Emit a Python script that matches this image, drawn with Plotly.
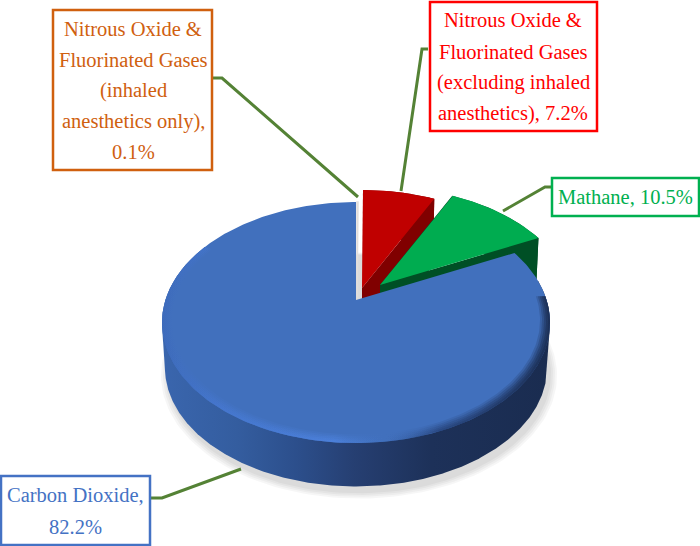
import numpy as np
import plotly.graph_objects as go

# ---- data ----
categories = ["Carbon Dioxide", "Mathane",
              "Nitrous Oxide & Fluorinated Gases (excluding inhaled anesthetics)",
              "Nitrous Oxide & Fluorinated Gases (inhaled anesthetics only)"]
values = [82.2, 10.5, 7.2, 0.1]

label_co2 = ["Carbon Dioxide,", "82.2%"]
label_ch4 = ["Mathane, 10.5%"]
label_no2 = ["Nitrous Oxide &", "Fluorinated Gases", "(excluding inhaled", "anesthetics), 7.2%"]
label_inh = ["Nitrous Oxide &", "Fluorinated Gases", "(inhaled", "anesthetics only),", "0.1%"]

# ---- projection of the tilted pie onto the page ----
CX, CY, A, B, K = 356.0, 300.0, 190.6, 116.3, 0.187
DEPTH, BASE_SCALE = 46.0, 0.985
LEADER = "#548235"
FONT = "Liberation Serif"
FSIZE = 20.5


def project(theta_deg, scale=1.0, off=(0, 0), depth=0.0):
    t = np.radians(np.asarray(theta_deg, dtype=float))
    X, Y = scale * np.sin(t), scale * np.cos(t)
    w = 1 + K * Y
    return CX + A * X / w + off[0], CY - B * Y / w + off[1] + depth


def arc(a, b, n=160):
    return np.linspace(a, b, n)


def poly(xs, ys, color=None, gradient=None):
    tr = dict(x=list(xs), y=list(ys), mode="lines", fill="toself", line=dict(width=0),
              hoverinfo="skip", showlegend=False)
    if gradient:
        tr["fillgradient"] = gradient
    else:
        tr["fillcolor"] = color
    fig.add_trace(go.Scatter(**tr))


def hgrad(stops, start=160, stop=548):
    return dict(type="horizontal", start=start, stop=stop, colorscale=stops)


def hull(xs, ys):
    pts = sorted(set(zip(np.round(xs, 3).tolist(), np.round(ys, 3).tolist())))

    def half(seq):
        out = []
        for p in seq:
            while len(out) >= 2 and ((out[-1][0] - out[-2][0]) * (p[1] - out[-2][1])
                                     - (out[-1][1] - out[-2][1]) * (p[0] - out[-2][0])) <= 0:
                out.pop()
            out.append(p)
        return out[:-1]

    h = half(pts) + half(pts[::-1])
    h.append(h[0])
    return [p[0] for p in h], [p[1] for p in h]


fig = go.Figure()

# slice angles, measured clockwise from the top
deg = [v * 3.6 for v in values]
inh_a, inh_b = 0.0, deg[3]
no2_a, no2_b = inh_b, inh_b + deg[2]
ch4_a, ch4_b = no2_b, no2_b + deg[1]
co2_a, co2_b = ch4_b, 360.0

OFF_NO2 = (6, -12)
OFF_CH4 = (24, -15)
OFF_INH = (1, 0)

# soft shadow behind the pie
for i, s in enumerate([1.02, 1.01, 1.0, 0.99]):
    th = arc(0, 360, 200)
    x, y = project(th, s, (3, 3), DEPTH + 3)
    poly(x, y, "rgba(0,0,0,0.035)")


def wedge(a, b, off, top, wall):
    th = arc(a, b)
    # cut faces
    for ang in (a, b):
        x0, y0 = project(0, 0, off)
        x1, y1 = project(ang, 1, off)
        x2, y2 = project(ang, BASE_SCALE, off, DEPTH)
        poly([x0, x1, x2, x0], [y0, y1, y2, y0 + DEPTH], wall)
    # outer wall
    xt, yt = project(th, 1, off)
    xb, yb = project(th, BASE_SCALE, off, DEPTH)
    poly(np.r_[xt, xb[::-1]], np.r_[yt, yb[::-1]], wall)
    # top face
    x0, y0 = project(0, 0, off)
    poly(np.r_[x0, xt, x0], np.r_[y0, yt, y0], top)


wedge(no2_a, no2_b, OFF_NO2, "#c00000", "#800000")
wedge(ch4_a, ch4_b, OFF_CH4, "#00ac50", "#004f25")

# the very thin inhaled-anesthetics slice
thin = arc(inh_a, inh_b, 6)
xi, yi = project(thin, 1, OFF_INH)
x0i, y0i = project(0, 0, OFF_INH)
fig.add_trace(go.Scatter(x=np.r_[x0i, xi, x0i], y=np.r_[y0i, yi, y0i], mode="lines",
                         fill="toself", fillcolor="#e2dedb",
                         line=dict(width=1.5, color="#e2dedb"),
                         hoverinfo="skip", showlegend=False))

# carbon dioxide: side wall (front half as hulls, so the silhouette runs straight
# from the rim down to the base on both sides)
wall_grad = hgrad([[0, "#3a66ae"], [0.2, "#345d9f"], [0.35, "#2c4f8c"], [0.5, "#263f72"],
                   [0.7, "#1d3159"], [1, "#1a2c50"]])
for a_, b_ in [(co2_a + 16, 180), (180, 300)]:
    th = arc(a_, b_, 200)
    xt, yt = project(th)
    xb, yb = project(th, BASE_SCALE, depth=DEPTH)
    hx, hy = hull(np.r_[xt, xb], np.r_[yt, yb])
    poly(hx, hy, gradient=wall_grad)

# carbon dioxide: top face
th = arc(co2_a, co2_b, 300)
xt, yt = project(th)
x0, y0 = project(0, 0)
poly(np.r_[x0, xt, x0], np.r_[y0, yt, y0], "#4170bd")

# rim bevel: stacked translucent strips that give a soft edge
for inner, alpha in [(0.95, 0.15), (0.96, 0.2), (0.97, 0.25), (0.98, 0.3), (0.99, 0.35)]:
    th2 = arc(co2_a + 24, 300, 200)
    xo, yo = project(th2, 1.0)
    xn, yn = project(th2, inner)
    poly(np.r_[xo, xn[::-1]], np.r_[yo, yn[::-1]],
         gradient=hgrad([[0, f"rgba(60,105,185,{alpha})"],
                         [0.15, f"rgba(70,120,210,{alpha})"],
                         [0.45, f"rgba(78,132,226,{alpha})"],
                         [0.58, f"rgba(65,112,189,{alpha * 0.3})"],
                         [0.72, f"rgba(35,62,115,{alpha})"],
                         [1, f"rgba(26,44,80,{alpha * 1.5})"]]))

# ---- label boxes and leader lines ----
shapes = []


def box(x0_, y0_, x1_, y1_, color):
    shapes.append(dict(type="rect", xref="x", yref="y", x0=x0_, y0=y0_, x1=x1_, y1=y1_,
                       line=dict(color=color, width=2.5), fillcolor="white", layer="above"))


def leader(pts):
    path = "M " + " L ".join(f"{a},{b}" for a, b in pts)
    shapes.append(dict(type="path", path=path, xref="x", yref="y",
                       line=dict(color=LEADER, width=3), layer="above"))


leader([(213, 78), (222, 78), (358, 197)])
leader([(428, 49), (422, 49), (401, 191)])
leader([(551, 187), (545, 187), (503, 211)])
leader([(151, 498), (162, 498), (241, 469)])

box(53, 10, 212, 170, "#d0600f")
box(430, 2, 597, 131, "#ff0000")
box(552, 178, 699, 216, "#00b050")
box(1, 476, 150, 545, "#4472c4")

annotations = []


def label(lines, cx, ys, color):
    for text, y in zip(lines, ys):
        annotations.append(dict(x=cx, y=y, xref="x", yref="y", text=text, showarrow=False,
                                xanchor="center", yanchor="middle",
                                font=dict(family=FONT, size=FSIZE, color=color)))


label(label_inh, 133, [29, 60, 90, 121, 152], "#d0600f")
label(label_no2, 513, [20, 52, 82, 113], "#ff0000")
label(label_ch4, 625, [197], "#00b050")
label(label_co2, 75, [495, 527], "#4472c4")

fig.update_layout(
    width=700, height=546, margin=dict(l=0, r=0, t=0, b=0),
    paper_bgcolor="white", plot_bgcolor="white", showlegend=False,
    xaxis=dict(range=[0, 700], visible=False, fixedrange=True),
    yaxis=dict(range=[546, 0], visible=False, fixedrange=True),
    shapes=shapes, annotations=annotations,
)
fig.write_html("out.html", config={"displayModeBar": False},
               post_script="document.body.style.margin='0';document.documentElement.style.overflow='hidden';")
